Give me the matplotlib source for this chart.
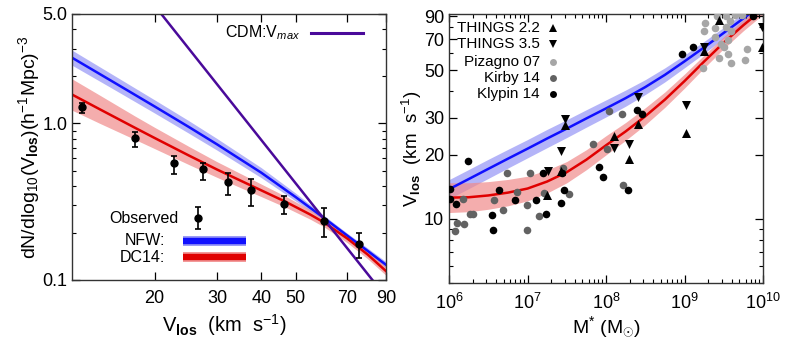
import numpy as np
import matplotlib.pyplot as plt
import matplotlib.ticker as mticker

plt.rcParams['font.family'] = ['Liberation Sans', 'DejaVu Sans']
plt.rcParams['mathtext.fontset'] = 'custom'
plt.rcParams['mathtext.rm'] = 'Liberation Sans'
plt.rcParams['mathtext.it'] = 'Liberation Sans:italic'
plt.rcParams['mathtext.bf'] = 'Liberation Sans:bold'

# ---- velocity function (left) ----
obs_v = [12.5, 17.6, 22.7, 27.4, 32.3, 37.5, 46.5, 60.3, 75.6]
obs_n = [1.28, 0.81, 0.556, 0.51, 0.42, 0.374, 0.305, 0.238, 0.170]
obs_lo = [1.17, 0.71, 0.478, 0.433, 0.35, 0.296, 0.263, 0.188, 0.138]
obs_hi = [1.36, 0.88, 0.619, 0.555, 0.48, 0.44, 0.343, 0.288, 0.199]

cdm_v = [20.9, 82.4]
cdm_n = [5.0, 0.1]

nfw_v = [11.7, 15, 20, 25, 30, 40, 50, 60, 70, 80, 90]
nfw_n = [2.63, 1.889, 1.285, 0.949, 0.736, 0.485, 0.339, 0.250, 0.192, 0.153, 0.125]
nfw_dex = [0.048, 0.045, 0.042, 0.040, 0.037, 0.032, 0.025, 0.016, 0.015, 0.018, 0.020]

dc_v = [11.7, 14, 17.6, 20, 25, 30, 35, 40, 47, 55, 60, 70, 80, 90]
dc_n = [1.53, 1.233, 0.939, 0.808, 0.624, 0.508, 0.431, 0.374, 0.315, 0.262, 0.234, 0.184, 0.145, 0.114]
dc_dex = [0.10, 0.09, 0.075, 0.068, 0.058, 0.05, 0.045, 0.04, 0.035, 0.03, 0.028, 0.027, 0.027, 0.027]

# ---- Vlos vs stellar mass (right) ----
klypin_m = [1.75e6, 1.57e7, 2.75e7, 1.03e6, 1.03e6, 1.23e6, 3.53e6, 3.63e6, 4.33e6, 6.93e6,
            1.28e7, 1.72e7, 2.67e7, 2.92e7, 8.15e7, 9.16e7, 1.91e8, 2.48e8, 2.88e8, 9.3e8,
            1.28e9, 7.5e9]
klypin_v = [18.8, 16.5, 16.5, 13.9, 12.4, 11.8, 10.4, 8.87, 13.7, 12.3,
            12.3, 10.6, 11.9, 13.7, 17.6, 15.8, 13.7, 32.7, 31.3, 59.4,
            64.1, 90.0]

kirby_m = [5.48e6, 1.08e7, 2.83e7, 1.09e8, 1.6e8, 1.03e8, 6.82e7, 1.26e6, 1.19e6, 1.55e6,
           1.85e6, 2.02e6, 3.74e6, 4.87e6, 7.34e6, 9.86e6, 9.86e6, 1.4e7, 1.62e7, 3.38e7,
           1.65e8, 1.5e6]
kirby_v = [16.5, 16.5, 17.4, 32.3, 31.0, 21.4, 22.6, 9.57, 8.78, 9.47,
           10.6, 10.6, 12.3, 11.0, 13.4, 11.6, 8.87, 10.3, 13.3, 13.1,
           14.5, 12.4]

pizagno_m = [1.82e9, 1.77e9, 2.57e9, 3.38e9, 4.4e9, 5.4e9, 2.45e9, 3.38e9, 3.8e9, 2.45e9,
             3.58e9, 3.91e9, 2.92e9, 2.75e9, 3.58e9, 3.91e9, 6.25e9, 5.9e9, 1.72e9, 3.18e9]
pizagno_v = [83.2, 76.2, 89.8, 89.8, 90.8, 90.8, 78.7, 79.6, 84.9, 71.5,
             69.2, 76.2, 66.2, 56.9, 59.4, 53.9, 62.7, 56.2, 51.5, 64.1]

things22_m = [2.75e9, 9.7e9, 1.77e9, 1.04e9, 2.56e8, 1.97e8, 1.26e8, 3.0e7, 2.65e7, 1.77e7]
things22_v = [85.9, 64.1, 61.5, 25.5, 28.1, 19.2, 24.6, 27.7, 16.8, 13.0]

things35_m = [9.7e9, 1.77e9, 1.04e9, 2.56e8, 1.97e8, 1.26e8, 2.67e7, 3.0e7, 1.82e7]
things35_v = [79.6, 64.7, 34.5, 37.6, 22.6, 21.6, 20.9, 29.6, 16.8]

logm_grid = [6.0, 6.25, 6.5, 6.75, 7.0, 7.25, 7.5, 7.75, 8.0,
             8.25, 8.5, 8.75, 9.0, 9.25, 9.5, 9.75, 10.0]
nfw_vm = [13.8, 15.4, 17.2, 19.2, 21.4, 23.9, 26.6, 29.7, 33.1,
          37.0, 41.7, 47.6, 55.1, 64.1, 75.0, 87.7, 102.6]
nfw_vm_dex = [0.045, 0.045, 0.045, 0.044, 0.043, 0.043, 0.042, 0.041, 0.040,
              0.038, 0.035, 0.033, 0.030, 0.028, 0.026, 0.025, 0.025]
dc_vm = [12.6, 12.65, 12.9, 13.3, 13.9, 15.0, 16.6, 19.0, 22.2,
         25.8, 30.4, 36.4, 44.5, 55.0, 67.5, 81.5, 97.0]
dc_vm_dex = [0.070, 0.068, 0.065, 0.062, 0.058, 0.054, 0.050, 0.047, 0.045,
             0.042, 0.040, 0.036, 0.033, 0.030, 0.028, 0.026, 0.025]

BLUE = '#1010ff'
BLUE_BAND = '#8c8cf5'
RED = '#e00000'
RED_BAND = '#f08a8a'
PURPLE = '#4a0a9a'


def band(center, dex):
    c = np.asarray(center)
    w = 10 ** np.asarray(dex)
    return c / w, c * w


fig = plt.figure(figsize=(8, 3.47), dpi=100)
ax1 = fig.add_axes([72 / 800, 67 / 347, 314 / 800, 266 / 347])
ax2 = fig.add_axes([449 / 800, 64 / 347, 314 / 800, 269 / 347])

# left panel
lo, hi = band(nfw_n, nfw_dex)
ax1.fill_between(nfw_v, lo, hi, color=BLUE_BAND, alpha=0.65, lw=0)
lo, hi = band(dc_n, dc_dex)
ax1.fill_between(dc_v, lo, hi, color=RED_BAND, alpha=0.7, lw=0)
ax1.plot(nfw_v, nfw_n, color=BLUE, lw=1.8)
ax1.plot(dc_v, dc_n, color=RED, lw=1.8)
ax1.plot(cdm_v, cdm_n, color=PURPLE, lw=1.8)
ax1.errorbar(obs_v, obs_n,
             yerr=[np.subtract(obs_n, obs_lo), np.subtract(obs_hi, obs_n)],
             fmt='o', color='black', ms=5, capsize=2.5, elinewidth=1.2, capthick=1.2)

ax1.set_xscale('log')
ax1.set_yscale('log')
ax1.set_xlim(11.7, 90)
ax1.set_ylim(0.1, 5.0)
ax1.xaxis.set_major_locator(mticker.FixedLocator([20, 30, 40, 50, 70, 90]))
ax1.xaxis.set_major_formatter(mticker.FixedFormatter(['20', '30', '40', '50', '70', '90']))
ax1.xaxis.set_minor_locator(mticker.NullLocator())
ax1.yaxis.set_major_locator(mticker.FixedLocator([0.1, 1.0, 5.0]))
ax1.yaxis.set_major_formatter(mticker.FixedFormatter(['0.1', '1.0', '5.0']))
ax1.yaxis.set_minor_locator(mticker.FixedLocator([0.2, 0.3, 0.4, 0.5, 0.6, 0.7, 0.8, 0.9, 2, 3, 4]))
ax1.yaxis.set_minor_formatter(mticker.NullFormatter())
ax1.set_xlabel(r'V$_{\mathbf{los}}$  (km  s$^{-1}$)', fontsize=14.5, labelpad=3)
ax1.xaxis.set_label_coords(0.485, -0.12)
ax1.set_ylabel(r'dN/dlog$_{10}$(V$_{\mathbf{los}}$)(h$^{-1}$Mpc)$^{-3}$', fontsize=14, labelpad=0)

# left legend
t1 = ax1.transAxes
ax1.text(0.726, 0.929, r'CDM:V$_{\mathit{max}}$', transform=t1, ha='right', va='center', fontsize=11.5)
ax1.plot([0.761, 0.927], [0.929, 0.929], color=PURPLE, lw=2.2, transform=t1)
ax1.text(0.338, 0.233, 'Observed', transform=t1, ha='right', va='center', fontsize=11.5)
ax1.errorbar([0.40], [0.233], yerr=[[0.04], [0.04]], fmt='o', color='black', ms=5,
             capsize=2.5, elinewidth=1.2, capthick=1.2, transform=t1)
ax1.text(0.296, 0.148, 'NFW:', transform=t1, ha='right', va='center', fontsize=11.5)
ax1.plot([0.354, 0.554], [0.148, 0.148], color=BLUE_BAND, lw=7, transform=t1, solid_capstyle='butt')
ax1.plot([0.354, 0.554], [0.148, 0.148], color=BLUE, lw=4.5, transform=t1, solid_capstyle='butt')
ax1.text(0.296, 0.085, 'DC14:', transform=t1, ha='right', va='center', fontsize=11.5)
ax1.plot([0.354, 0.554], [0.085, 0.085], color=RED_BAND, lw=7, transform=t1, solid_capstyle='butt')
ax1.plot([0.354, 0.554], [0.085, 0.085], color=RED, lw=4.5, transform=t1, solid_capstyle='butt')

# right panel
mass = 10 ** np.asarray(logm_grid)
lo, hi = band(nfw_vm, nfw_vm_dex)
ax2.fill_between(mass, lo, hi, color=BLUE_BAND, alpha=0.65, lw=0)
lo, hi = band(dc_vm, dc_vm_dex)
ax2.fill_between(mass, lo, hi, color=RED_BAND, alpha=0.7, lw=0)
ax2.plot(mass, nfw_vm, color=BLUE, lw=1.8)
ax2.plot(mass, dc_vm, color=RED, lw=1.8)
ax2.scatter(pizagno_m, pizagno_v, s=30, color='#a6a6a6', lw=0, zorder=3)
ax2.scatter(kirby_m, kirby_v, s=30, color='#626262', lw=0, zorder=3)
ax2.scatter(klypin_m, klypin_v, s=30, color='black', lw=0, zorder=3)
ax2.scatter(things22_m, things22_v, s=42, marker='^', color='black', lw=0, zorder=4)
ax2.scatter(things35_m, things35_v, s=42, marker='v', color='black', lw=0, zorder=4)

ax2.set_xscale('log')
ax2.set_yscale('log')
ax2.set_xlim(1e6, 1e10)
ax2.set_ylim(5, 92)
ax2.xaxis.set_major_locator(mticker.FixedLocator([1e6, 1e7, 1e8, 1e9, 1e10]))
ax2.xaxis.set_major_formatter(mticker.FixedFormatter(
    [r'10$^{6}$', r'10$^{7}$', r'10$^{8}$', r'10$^{9}$', r'10$^{10}$']))
ax2.xaxis.set_minor_locator(mticker.LogLocator(base=10, subs=range(2, 10)))
ax2.xaxis.set_minor_formatter(mticker.NullFormatter())
ax2.yaxis.set_major_locator(mticker.FixedLocator([10, 20, 30, 50, 70, 90]))
ax2.yaxis.set_major_formatter(mticker.FixedFormatter(['10', '20', '30', '50', '70', '90']))
ax2.yaxis.set_minor_locator(mticker.FixedLocator([5, 6, 7, 8, 9, 40, 60, 80]))
ax2.yaxis.set_minor_formatter(mticker.NullFormatter())
ax2.set_xlabel(r'M$^{*}$ (M$_{\odot}$)', fontsize=14, labelpad=1)
ax2.set_ylabel(r'V$_{\mathbf{los}}$  (km  s$^{-1}$)', fontsize=13.5, labelpad=0)

# right legend
t2 = ax2.transAxes
rows = [('THINGS 2.2', '^', 'black', 0.949),
        ('THINGS 3.5', 'v', 'black', 0.887),
        ('Pizagno 07', 'o', '#a6a6a6', 0.823),
        ('Kirby 14', 'o', '#626262', 0.763),
        ('Klypin 14', 'o', 'black', 0.701)]
for label, mk, col, yy in rows:
    ax2.text(0.29, yy, label, transform=t2, ha='right', va='center', fontsize=11)
    ax2.plot([0.331], [yy], marker=mk, color=col, ms=6 if mk != 'o' else 5,
             mew=0, transform=t2, clip_on=False)

for ax in (ax1, ax2):
    ax.tick_params(which='both', direction='in', top=True, right=True, labelsize=13)
    ax.tick_params(which='major', length=6, width=0.9)
    ax.tick_params(which='minor', length=3, width=0.8)
    ax.tick_params(axis='x', which='both', pad=7)
    for sp in ax.spines.values():
        sp.set_linewidth(1.0)
        sp.set_color('#333333')

fig.savefig('out.png', dpi=100)
